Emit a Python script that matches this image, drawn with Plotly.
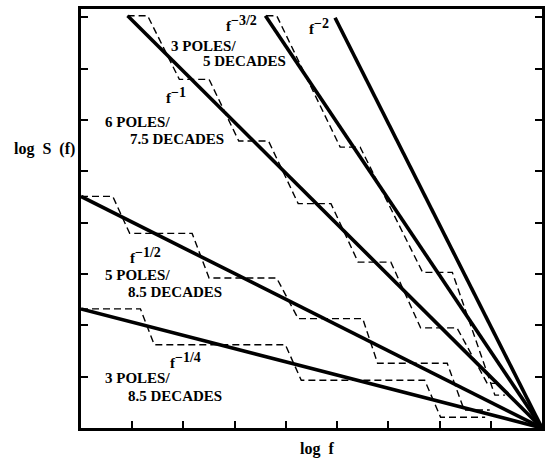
import plotly.graph_objects as go

# ---- data (log f, log S) ----
# solid power-law lines (start point, end point)
line_f2_x = [4.96, 9.0];   line_f2_y = [7.99, 0.0]
line_f32_x = [3.60, 9.0];  line_f32_y = [8.03, 0.0]
line_f1_x = [0.91, 9.0];   line_f1_y = [8.03, 0.0]
line_f12_x = [0.0, 9.0];   line_f12_y = [4.51, 0.0]
line_f14_x = [0.0, 9.0];   line_f14_y = [2.32, 0.0]

# dashed pole approximations
st_f32_x = [3.62, 3.82, 5.06, 5.45, 6.67, 7.25, 8.08, 8.28]
st_f32_y = [8.03, 8.03, 5.47, 5.47, 3.03, 3.03, 0.64, 0.64]

st_f1_x = [0.91, 1.30, 1.92, 2.50, 3.08, 3.66, 4.24, 4.88, 5.41, 6.05, 6.63, 7.34, 7.93, 8.22]
st_f1_y = [8.03, 8.03, 6.79, 6.79, 5.59, 5.59, 4.37, 4.37, 3.23, 3.23, 1.95, 1.95, 0.87, 0.87]

st_f12_x = [0.0, 0.62, 0.95, 2.17, 2.50, 3.82, 4.24, 5.50, 5.79, 7.15, 7.48, 7.98]
st_f12_y = [4.51, 4.51, 3.79, 3.79, 2.92, 2.92, 2.13, 2.13, 1.26, 1.26, 0.35, 0.35]

st_f14_x = [0.0, 1.16, 1.43, 3.99, 4.30, 6.71, 7.02, 7.89]
st_f14_y = [2.32, 2.32, 1.62, 1.62, 0.93, 0.93, 0.21, 0.21]

tick_vals = [1, 2, 3, 4, 5, 6, 7, 8]

FONT = "Liberation Serif"

fig = go.Figure()

for xs, ys in [(line_f2_x, line_f2_y), (line_f32_x, line_f32_y), (line_f1_x, line_f1_y),
               (line_f12_x, line_f12_y), (line_f14_x, line_f14_y)]:
    fig.add_trace(go.Scatter(x=xs, y=ys, mode="lines",
                             line=dict(color="black", width=3.6),
                             showlegend=False, hoverinfo="skip", cliponaxis=False))

for xs, ys in [(st_f32_x, st_f32_y), (st_f1_x, st_f1_y), (st_f12_x, st_f12_y), (st_f14_x, st_f14_y)]:
    fig.add_trace(go.Scatter(x=xs, y=ys, mode="lines",
                             line=dict(color="black", width=1.4, dash="7px,4px"),
                             showlegend=False, hoverinfo="skip", cliponaxis=False))


def fpow(exp):
    return 'f<sup><span style="font-size:14px">%s</span></sup>' % exp


# labels: (text, x, y, xanchor)
labels = [
    (fpow("−3/2"), 3.14, 7.87, "center"),
    (fpow("−2"), 4.65, 7.81, "center"),
    ("3 POLES/", 1.72, 7.43, "left"),
    ("5 DECADES", 2.34, 7.14, "left"),
    (fpow("−1"), 1.63, 6.48, "left"),
    ("6 POLES/", 0.43, 5.96, "left"),
    ("7.5 DECADES", 0.91, 5.63, "left"),
    (fpow("−1/2"), 0.91, 3.35, "left"),
    ("5 POLES/", 0.43, 2.98, "left"),
    ("8.5 DECADES", 0.87, 2.65, "left"),
    (fpow("−1/4"), 1.69, 1.32, "left"),
    ("3 POLES/", 0.43, 0.97, "left"),
    ("8.5 DECADES", 0.87, 0.62, "left"),
]
for text, x, y, xa in labels:
    fig.add_annotation(x=x, y=y, text="<b>%s</b>" % text, showarrow=False,
                       xanchor=xa, yanchor="middle",
                       font=dict(family=FONT, size=15, color="black"))

# axis titles in paper coordinates
fig.add_annotation(x=-0.08, y=0.666, xref="paper", yref="paper",
                   text="<b>log  S  (f)</b>", showarrow=False,
                   xanchor="center", yanchor="middle",
                   font=dict(family=FONT, size=16, color="black"))
fig.add_annotation(x=0.512, y=-0.05, xref="paper", yref="paper",
                   text="<b>log  f</b>", showarrow=False,
                   xanchor="center", yanchor="middle",
                   font=dict(family=FONT, size=16, color="black"))

fig.update_xaxes(range=[0, 9], showgrid=False, zeroline=False,
                 showline=True, linecolor="black", linewidth=2.6, mirror=True,
                 ticks="inside", ticklen=7, tickwidth=2, tickcolor="black",
                 tickvals=tick_vals, showticklabels=False)
fig.update_yaxes(range=[0, 8.16], showgrid=False, zeroline=False,
                 showline=True, linecolor="black", linewidth=2.6, mirror="ticks",
                 ticks="inside", ticklen=7, tickwidth=2, tickcolor="black",
                 tickvals=tick_vals, showticklabels=False)

fig.update_layout(width=551, height=460,
                  margin=dict(l=81, r=6, t=6, b=32),
                  paper_bgcolor="white", plot_bgcolor="white",
                  showlegend=False)

fig.write_html("out.html",
               config={"displayModeBar": False},
               post_script="document.body.style.margin='0px';"
                           "document.body.style.overflow='hidden';")
